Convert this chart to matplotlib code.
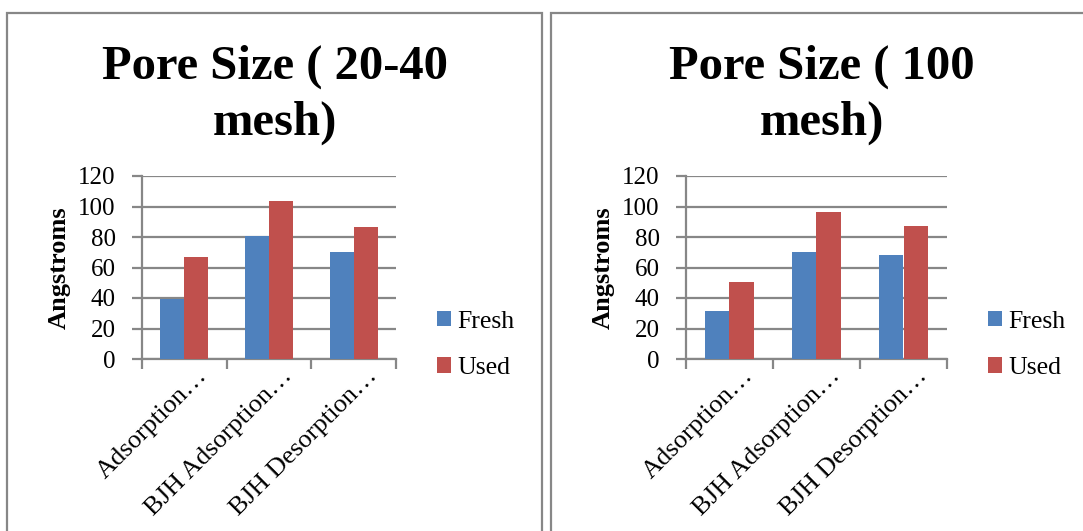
import matplotlib.pyplot as plt
import numpy as np
from matplotlib.patches import Rectangle

plt.rcParams['font.family'] = ['Liberation Serif', 'DejaVu Serif']

methods = ['Adsorption…', 'BJH Adsorption…', 'BJH Desorption…']
series = ['Fresh', 'Used']
colors = ['#4F81BD', '#C0504D']

fresh_2040 = [39.6, 80.7, 69.9]
used_2040 = [67.1, 103.6, 86.3]
fresh_100 = [31.5, 70.2, 68.2]
used_100 = [50.7, 96.6, 87.0]

titles = ['Pore Size ( 20-40\nmesh)', 'Pore Size ( 100\nmesh)']
yticks = [0, 20, 40, 60, 80, 100, 120]

W, H = 1083, 531
fig = plt.figure(figsize=(W / 100, H / 100), dpi=100)

grey = '#878787'

# panel frames (right and bottom edges run off the page)
for x0, x1 in [(7, 542), (551, 1095)]:
    fig.patches.append(Rectangle((x0 / W, -0.05), (x1 - x0) / W, (H - 13) / H + 0.05,
                                 transform=fig.transFigure, fill=False,
                                 edgecolor=grey, linewidth=1.6))

panels = [
    (142, 396, 275, 437, [fresh_2040, used_2040]),
    (686, 947, 822, 988, [fresh_100, used_100]),
]

x = np.arange(len(methods))
bw = 0.283
for (left, right, tcx, legx, vals), title in zip(panels, titles):
    ax = fig.add_axes([left / W, (H - 359) / H, (right - left) / W, 183 / H])
    for i, (v, c) in enumerate(zip(vals, colors)):
        ax.bar(x + (i - 0.5) * bw, v, bw, color=c, zorder=3, label=series[i])
    ax.set_xlim(-0.5, 2.5)
    ax.set_ylim(0, 120)
    ax.set_yticks(yticks)
    ax.set_yticklabels([str(t) for t in yticks], fontsize=18)
    ax.yaxis.grid(True, color=grey, linewidth=1.6, zorder=0)
    ax.set_axisbelow(True)
    ax.set_xticks([-0.5, 0.5, 1.5, 2.5])
    ax.set_xticklabels([])
    # slanted labels sit a little right of the category centre
    ax.set_xticks(x + 0.14, minor=True)
    ax.set_xticklabels(methods, minor=True, rotation=45, ha='right', va='top',
                       rotation_mode='anchor', fontsize=19)
    ax.tick_params(axis='x', which='major', length=7, width=1.6, color=grey)
    ax.tick_params(axis='x', which='minor', length=0, pad=4)
    ax.tick_params(axis='y', length=7, width=1.6, color=grey, pad=12)
    for s in ['top', 'right']:
        ax.spines[s].set_visible(False)
    for s in ['left', 'bottom']:
        ax.spines[s].set_color(grey)
        ax.spines[s].set_linewidth(1.6)
    ax.set_ylabel('Angstroms', fontsize=19, fontweight='bold', labelpad=5)
    fig.text(tcx / W, 1 - 95 / H, title, ha='center', va='center',
             fontsize=35, fontweight='bold', linespacing=1.35)
    ax.legend(loc='center left', bbox_to_anchor=((legx - left) / (right - left), (359 - 345) / 183),
              frameon=False, fontsize=18.5, handlelength=0.55, handleheight=0.55,
              handletextpad=0.25, labelspacing=0.95, borderaxespad=0, borderpad=0)

fig.savefig('out.png', dpi=100)
